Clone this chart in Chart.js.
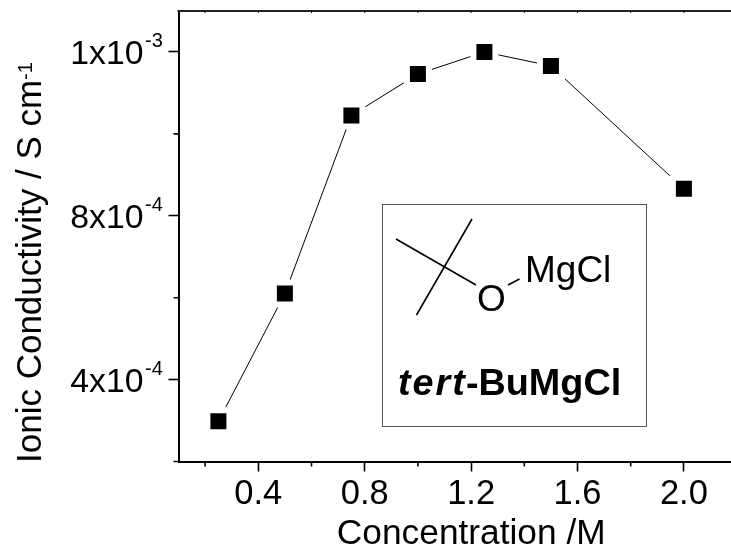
<!DOCTYPE html>
<html><head><meta charset="utf-8">
<style>html,body{margin:0;padding:0;background:#fff}canvas{display:block}</style>
<script src="https://cdn.jsdelivr.net/npm/chart.js@4"></script></head>
<body><div style="width:731px;height:550px"><canvas id="c" width="731" height="550"></canvas></div>
<script>
const concentrations=[0.25,0.5,0.75,1.0,1.25,1.5,2.0];
const conductivity=[2.98e-4,6.1e-4,1.045e-3,1.146e-3,1.2e-3,1.166e-3,8.66e-4];
const xMajor=[0.4,0.8,1.2,1.6,2.0];
const xMinor=[0.2,0.6,1.0,1.4,1.8];
const yMajor=[4e-4,8e-4,1.2e-3];
const yMinor=[2e-4,6e-4,1e-3];
const yLabels={"0.0004":["4x10","-4"],"0.0008":["8x10","-4"],"0.0012":["1x10","-3"]};
const FONT='"Liberation Sans",Arial,sans-serif';
const LEFT=178.5,TOP=11,BOTTOM=461.5;
const key=v=>String(+v.toPrecision(3));
function shiftTitle(s,dx,dy){
  if(s._shifted)return; s._shifted=true;
  const orig=s.drawTitle;
  s.drawTitle=function(){const c=s.ctx;c.save();c.translate(dx,dy);orig.call(s);c.restore();};
}
const decor={id:'decor',
 afterDraw(ch){
  const c=ch.ctx,x=ch.scales.x,y=ch.scales.y,a=ch.chartArea;
  c.save();c.strokeStyle='#000';c.lineWidth=1.6;c.beginPath();
  xMinor.forEach(v=>{const p=x.getPixelForValue(v);c.moveTo(p,a.bottom);c.lineTo(p,a.bottom+5);});
  yMinor.forEach(v=>{const p=y.getPixelForValue(v);c.moveTo(a.left,p);c.lineTo(a.left-5,p);});
  c.stroke();
  c.lineWidth=2;c.strokeStyle='#222';c.beginPath();c.moveTo(a.left-1,a.top);c.lineTo(a.right,a.top);c.stroke();
  c.lineWidth=1;c.strokeStyle='#000';c.beginPath();
  [...xMajor,...xMinor].forEach(v=>{const p=x.getPixelForValue(v);c.moveTo(p,a.top);c.lineTo(p,a.top+2);});
  c.stroke();
  c.fillStyle='#000';c.textBaseline='alphabetic';c.textAlign='left';
  // tick superscripts
  c.font='20px '+FONT;
  yMajor.forEach(v=>{c.fillText(yLabels[key(v)][1],145,y.getPixelForValue(v)-5);});
  // axis title superscript
  c.save();c.translate(32,80);c.rotate(-Math.PI/2);c.font='20px '+FONT;c.fillText('-1',0,0);c.restore();
  // inset box
  c.strokeStyle='#555';c.lineWidth=1;c.strokeRect(382.5,204.5,264,222);
  // molecule
  c.strokeStyle='#000';c.lineWidth=1.6;c.beginPath();
  c.moveTo(472,219);c.lineTo(416.5,315);
  c.moveTo(396,239);c.lineTo(476,285);
  c.moveTo(508,285);c.lineTo(519.5,279);
  c.stroke();
  c.font='37px '+FONT;
  c.fillText('O',477,311);c.fillText('MgCl',525,282);
  // name
  c.font='italic bold 37.8px '+FONT;
  let nx=398;
  for(const ch2 of 'tert'){c.fillText(ch2,nx,395);nx+=c.measureText(ch2).width+2;}
  c.font='bold 37.8px '+FONT;c.fillText('-BuMgCl',nx-1,395);
  c.restore();
 }};
new Chart(document.getElementById('c'),{type:'line',plugins:[decor],
 data:{labels:concentrations,datasets:[{data:concentrations.map((v,i)=>({x:v,y:conductivity[i]})),
  borderColor:'#000',borderWidth:1,tension:0,pointStyle:'rect',pointRadius:15.56,pointHoverRadius:15.56,
  pointBackgroundColor:'#000',pointBorderColor:'#fff',pointBorderWidth:6}]},
 options:{responsive:false,animation:false,events:[],
  layout:{autoPadding:false,padding:{left:0,right:0,top:TOP,bottom:0}},
  plugins:{legend:{display:false},tooltip:{enabled:false},title:{display:false}},
  scales:{
   x:{type:'linear',min:0.1,max:2.177,position:'bottom',
    afterBuildTicks(s){s.ticks=xMajor.map(v=>({value:v}));},
    ticks:{font:{family:FONT,size:34.5},color:'#000',padding:2,maxRotation:0,autoSkip:false,callback:v=>v.toFixed(1)},
    grid:{display:true,drawOnChartArea:false,drawTicks:true,tickLength:10,tickWidth:1.6,tickColor:'#000'},
    border:{color:'#000',width:2},
    afterFit(s){s.height=550-BOTTOM;s.paddingLeft=0;s.paddingRight=0;shiftTitle(s,16.5,5);},
    title:{display:true,text:'Concentration /M',color:'#000',font:{family:FONT,size:35.3},padding:{top:0,bottom:0}}},
   y:{type:'linear',min:2e-4,max:1.3e-3,position:'left',
    afterBuildTicks(s){s.ticks=yMajor.map(v=>({value:v}));},
    ticks:{font:{family:FONT,size:33.8},color:'#000',padding:25,labelOffset:3,autoSkip:false,callback:v=>yLabels[key(v)][0]},
    grid:{display:true,drawOnChartArea:false,drawTicks:true,tickLength:10,tickWidth:1.6,tickColor:'#000'},
    border:{color:'#000',width:2},
    afterFit(s){s.width=LEFT;s.paddingTop=0;s.paddingBottom=0;shiftTitle(s,1,1.5);},
    title:{display:true,text:'Ionic Conductivity / S cm',align:'start',color:'#000',font:{family:FONT,size:35},padding:{top:9,bottom:0}}}
  }}});
</script></body></html>
